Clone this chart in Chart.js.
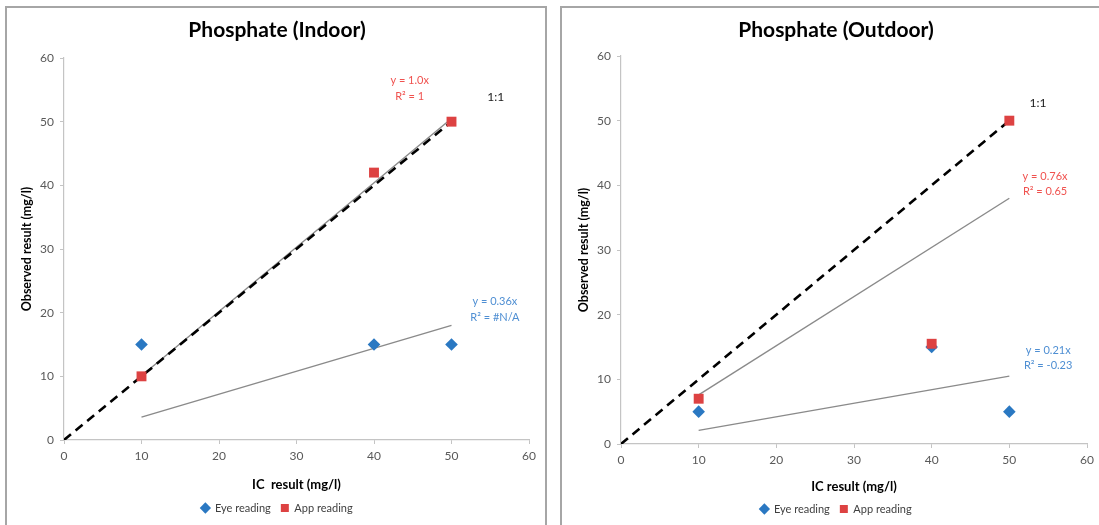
<!DOCTYPE html>
<html>
<head>
<meta charset="utf-8">
<script src="https://cdn.jsdelivr.net/npm/chart.js@4.4.1/dist/chart.umd.min.js"></script>
<style>
body { margin: 0; background: #fff; width: 1099px; height: 525px; overflow: hidden; position: relative; }
.panel { position: absolute; top: 6px; height: 540px; border: 2px solid #a6a6a6; box-sizing: border-box; }
#p1 { left: 5px; width: 542px; }
#p2 { left: 560px; width: 560px; }
canvas { position: absolute; }
</style>
</head>
<body>
<div class="panel" id="p1"></div>
<div class="panel" id="p2"></div>
<canvas id="indoor" width="536" height="516" style="left:8px;top:9px"></canvas>
<canvas id="outdoor" width="536" height="516" style="left:563px;top:9px"></canvas>
<script>
// IC result (x) for the three samples
const icResult = [10, 40, 50];

// indoor readings
const indoorEye = [15, 15, 15];
const indoorApp = [10, 42, 50];
// outdoor readings
const outdoorEye = [5, 15, 5];
const outdoorApp = [7, 15.5, 50];

// trend lines (Excel linear, through origin), drawn from x=10 to x=50
const trendX = [10, 50];
const indoorEyeTrend = [3.6, 18];
const indoorAppTrend = [10.1, 50.5];
const outdoorEyeTrend = [2.1, 10.5];
const outdoorAppTrend = [7.6, 38];

// 1:1 line
const oneX = [0, 50];
const oneY = [0, 50];

const axisTicks = [0, 10, 20, 30, 40, 50, 60];

// equation labels: text, x, y (data units), colour name
const indoorNotes = [
    ["y = 1.0x", 44.6, 56.4, "red"],
    ["R\u00b2 = 1", 44.6, 54.0, "red"],
    ["1:1", 55.7, 53.9, "black"],
    ["y = 0.36x", 55.6, 21.7, "blue"],
    ["R\u00b2 = #N/A", 55.6, 19.2, "blue"]
];
const outdoorNotes = [
    ["1:1", 53.7, 52.7, "black"],
    ["y = 0.76x", 54.6, 41.3, "red"],
    ["R\u00b2 = 0.65", 54.6, 39.1, "red"],
    ["y = 0.21x", 55.0, 14.4, "blue"],
    ["R\u00b2 = -0.23", 55.0, 12.1, "blue"]
];

const noteColors = {red: "#f0524f", blue: "#4f8fd3", black: "#1a1a1a"};
const FONT = "Lato, 'Open Sans', sans-serif";

const pts = (xs, ys) => xs.map((x, i) => ({x: x, y: ys[i]}));

const notesPlugin = {
    id: "notes",
    afterDatasetsDraw(chart) {
        const notes = chart.options.plugins.notes.items;
        const ctx = chart.ctx;
        const xs = chart.scales.x, ys = chart.scales.y;
        ctx.save();
        ctx.textAlign = "center";
        ctx.textBaseline = "middle";
        notes.forEach(n => {
            ctx.font = (n[3] === "black" ? "12px " : "11px ") + FONT;
            ctx.fillStyle = noteColors[n[3]];
            ctx.fillText(n[0], xs.getPixelForValue(n[1]), ys.getPixelForValue(n[2]));
        });
        ctx.restore();
    }
};

function makeChart(id, title, eye, app, eyeTrend, appTrend, notes, box) {
    const ctx = document.getElementById(id).getContext("2d");
    return new Chart(ctx, {
        type: "scatter",
        data: {
            datasets: [
                {label: "Eye reading", data: pts(icResult, eye), pointStyle: "rectRot",
                 pointRadius: 6.3, backgroundColor: "#2a78c2", borderColor: "#2a78c2", borderWidth: 0, order: 1},
                {label: "App reading", data: pts(icResult, app), pointStyle: "rect",
                 pointRadius: 7, backgroundColor: "#dd4242", borderColor: "#dd4242", borderWidth: 0, order: 0},
                {label: "eye trend", data: pts(trendX, eyeTrend), showLine: true, pointRadius: 0,
                 borderColor: "#8a8a8a", borderWidth: 1.4, order: 3},
                {label: "app trend", data: pts(trendX, appTrend), showLine: true, pointRadius: 0,
                 borderColor: "#8a8a8a", borderWidth: 1.4, order: 3},
                {label: "1:1", data: pts(oneX, oneY), showLine: true, pointRadius: 0,
                 borderColor: "#000", borderWidth: 2.6, borderDash: [9, 6], order: 2}
            ]
        },
        options: {
            responsive: false,
            animation: false,
            layout: {padding: {left: box.padL, right: box.w - box.right, top: 0, bottom: box.legendPadB}},
            plugins: {
                tooltip: {enabled: false},
                title: {
                    display: true, text: title, color: "#000",
                    font: {family: FONT, size: 21, weight: "bold", lineHeight: 1.2},
                    padding: {top: box.titleCenter - 12.6, bottom: box.top - box.titleCenter - 12.6}
                },
                legend: {
                    position: "bottom",
                    labels: {
                        usePointStyle: true, boxWidth: 8, boxHeight: 8, padding: 10,
                        color: "#404040", font: {family: FONT, size: 11},
                        filter: item => item.text.indexOf("reading") > 0,
                        sort: (a, b) => a.datasetIndex - b.datasetIndex
                    }
                },
                notes: {items: notes}
            },
            scales: {
                x: {
                    type: "linear", min: 0, max: 60,
                    afterBuildTicks: s => { s.ticks = axisTicks.map(v => ({value: v})); },
                    afterFit: s => { s.height = box.xHeight; },
                    border: {display: true, color: "#c4c4c4", width: 1.2},
                    grid: {display: true, drawOnChartArea: false, tickLength: 4, color: "#c4c4c4"},
                    ticks: {color: "#595959", padding: 5, font: {family: FONT, size: 12}},
                    title: {display: true, text: box.xTitle, color: "#000",
                            font: {family: FONT, size: 13, weight: "bold"},
                            padding: {top: 2, bottom: box.xTitlePadB}}
                },
                y: {
                    type: "linear", min: 0, max: 60,
                    afterBuildTicks: s => { s.ticks = axisTicks.map(v => ({value: v})); },
                    afterFit: s => { s.width = box.left - box.padL; },
                    border: {display: true, color: "#c4c4c4", width: 1.2},
                    grid: {display: true, drawOnChartArea: false, tickLength: 4, color: "#c4c4c4"},
                    ticks: {color: "#595959", padding: 6, font: {family: FONT, size: 12}},
                    title: {display: true, text: "Observed result (mg/l)", color: "#000",
                            font: {family: FONT, size: 12.5, weight: "bold"},
                            padding: {top: box.yTitlePadT, bottom: 0}}
                }
            }
        },
        plugins: [notesPlugin]
    });
}

makeChart("indoor", "Phosphate (Indoor)", indoorEye, indoorApp, indoorEyeTrend, indoorAppTrend, indoorNotes,
    {w: 536, padL: 17, left: 56, right: 521, top: 49, titleCenter: 21.5, legendPadB: 1.5,
     xHeight: 52.5, xTitle: "IC  result (mg/l)", xTitlePadB: -0.3, yTitlePadT: -5.7});
makeChart("outdoor", "Phosphate (Outdoor)", outdoorEye, outdoorApp, outdoorEyeTrend, outdoorAppTrend, outdoorNotes,
    {w: 536, padL: 22, left: 58, right: 524, top: 47, titleCenter: 21.5, legendPadB: 0.5,
     xHeight: 49.5, xTitle: "IC result (mg/l)", xTitlePadB: -1.3, yTitlePadT: -8.7});
</script>
</body>
</html>
